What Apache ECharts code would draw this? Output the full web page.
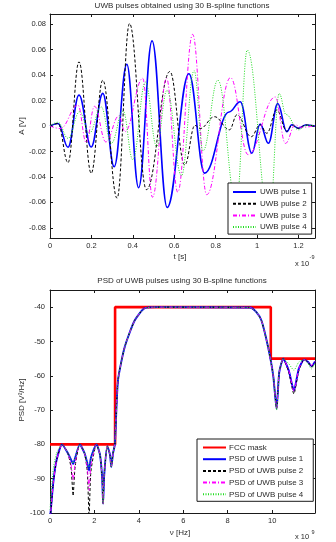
<!DOCTYPE html>
<html>
<head>
<meta charset="utf-8">
<script src="https://cdn.jsdelivr.net/npm/echarts@6/dist/echarts.min.js"></script>
<style>
  html, body { margin: 0; padding: 0; background: #fff; }
  #chart { width: 336px; height: 542px; }
</style>
</head>
<body>
<div id="chart"></div>
<script>
// top panel: t in units of 1e-9 s, amplitude in V (turning points)
const tTicks = [0, 0.2, 0.4, 0.6, 0.8, 1, 1.2]
const aTicks = [-0.08, -0.06, -0.04, -0.02, 0, 0.02, 0.04, 0.06, 0.08]

const pulse1T = [0, 0.039, 0.087, 0.14, 0.199, 0.255, 0.31, 0.371, 0.428, 0.493, 0.566, 0.671, 0.747, 0.865, 0.919, 0.975, 1.015, 1.055, 1.1, 1.144, 1.168, 1.2, 1.235, 1.28]
const pulse1A = [0, 0.002, -0.0167, 0.0243, -0.0165, 0.0256, -0.032, 0.0485, -0.0485, 0.0669, -0.064, 0.041, -0.037, 0.011, 0.019, -0.0214, 0.0015, -0.0136, 0.0176, -0.0045, 0.001, -0.0018, 0.0008, 0]

const pulse2T = [0, 0.039, 0.087, 0.14, 0.199, 0.255, 0.324, 0.384, 0.466, 0.579, 0.651, 0.7, 0.725, 0.795, 0.867, 0.903, 0.972, 1.015, 1.047, 1.095, 1.144, 1.17, 1.2, 1.235, 1.28]
const pulse2A = [0, 0.002, -0.0288, 0.0504, -0.0371, 0.036, -0.0567, 0.0805, -0.05, 0.0428, -0.0306, 0.0005, -0.002, 0.0073, -0.003, 0.0088, -0.0084, 0.001, -0.0057, 0.0125, -0.004, 0.0008, -0.0018, 0.0008, 0]

const pulse3T = [0, 0.05, 0.135, 0.175, 0.215, 0.27, 0.333, 0.362, 0.448, 0.495, 0.563, 0.617, 0.689, 0.757, 0.872, 0.957, 1.088, 1.137, 1.185, 1.21, 1.28]
const pulse3A = [0, -0.002, 0.0165, -0.013, 0.0155, -0.0125, 0.008, -0.0045, 0.0374, -0.056, 0.0375, -0.052, 0.072, -0.054, 0.038, -0.0225, 0.0228, -0.0137, 0.001, -0.001, 0]

const pulse4T = [0, 0.039, 0.087, 0.143, 0.19, 0.247, 0.296, 0.353, 0.4, 0.461, 0.515, 0.565, 0.635, 0.696, 0.739, 0.811, 0.9, 0.953, 1.06, 1.107, 1.14, 1.2, 1.24, 1.28]
const pulse4A = [0, 0.003, -0.0097, 0.0112, -0.0057, 0.0151, -0.0136, 0.0118, -0.0265, 0.0345, -0.016, 0.028, -0.039, 0.0435, -0.0195, 0.036, -0.062, 0.0596, -0.075, 0.0255, 0.009, -0.003, 0.0005, 0]

// bottom panel: frequency in units of 1e9 Hz, PSD in dB
const fTicks = [0, 2, 4, 6, 8, 10]
const psdTicks = [-100, -90, -80, -70, -60, -50, -40]

const maskF = [0, 2.93, 2.93, 9.94, 9.94, 11.93]
const maskP = [-80, -80, -40, -40, -55, -55]

const psdF = [0, 0.15, 0.3, 0.54, 0.8, 0.95, 1.04, 1.13, 1.34, 1.55, 1.68, 1.76, 1.84, 2.09, 2.25, 2.35, 2.39, 2.44, 2.58, 2.7, 2.76, 2.84, 2.92, 3.06, 3.36, 3.81, 4.26, 4.8, 9.0, 9.3, 9.52, 9.82, 10.05, 10.2, 10.32, 10.5, 10.75, 10.98, 11.2, 11.44, 11.62, 11.77, 11.93]
const psd1 = [-102, -91, -84.5, -80, -82.5, -84.5, -85.7, -84, -80, -82.5, -85.5, -87.6, -84, -80, -83, -90, -97.3, -89, -80.5, -83, -86.6, -82.5, -80, -61.4, -51.7, -43.9, -40.3, -40, -40.1, -41.5, -43.9, -51.7, -60, -69.6, -59, -55, -58.5, -64.3, -58, -55.3, -56, -57.2, -55.8]
const psd2 = [-103, -91, -84.5, -80, -82.5, -87, -95, -86.5, -80, -82.5, -88, -101, -88, -80, -83, -90, -97.3, -89, -80.5, -83, -86.6, -82.5, -80, -61.4, -51.7, -43.9, -40.3, -40, -40.1, -41.5, -43.9, -51.7, -60, -69.6, -59, -55, -59, -65.3, -58.5, -55.3, -56, -57.5, -56]
const psd3 = [-102, -91, -84.5, -80, -82.5, -86, -90.5, -85.5, -80, -82.5, -87, -93.4, -86, -80, -83, -90, -97.3, -89, -80.5, -83, -86.6, -82.5, -80, -61.4, -51.7, -43.9, -40.3, -40, -40.1, -41.5, -43.9, -51.7, -60, -69.6, -59, -55, -58.5, -64.5, -58, -55.3, -56, -57, -55.8]
const psd4 = [-99, -87, -82.5, -80, -82.5, -84.5, -85.5, -84, -80, -82.5, -85.5, -87, -84, -80, -83, -90, -97.3, -89, -80.5, -83, -86.6, -82.5, -80, -61.4, -51.7, -43.9, -40.3, -40, -40.1, -41.5, -43.9, -51.7, -60, -70, -59, -55, -56.5, -58.4, -56, -55.3, -56.5, -58, -56.5]

const font = 'Liberation Sans, Arial, sans-serif'
const frame = '#1a1a1a'
const textColor = '#2a2a2a'

function pairs(xs, ys) {
    return xs.map((x, i) => [x, ys[i]])
}

function makeX(gridIndex, position, max, ticks, showLabel) {
    return {
        type: 'value', gridIndex, position, min: 0, max,
        axisLine: { show: true, onZero: false, lineStyle: { color: frame, width: 1 } },
        axisTick: { show: true, inside: true, length: 3, customValues: ticks, lineStyle: { color: frame } },
        axisLabel: { show: showLabel, customValues: ticks, fontSize: 7.5, fontFamily: font, color: textColor, margin: 4 },
        splitLine: { show: false }
    }
}

function makeY(gridIndex, position, min, max, ticks, showLabel, margin) {
    return {
        type: 'value', gridIndex, position, min, max,
        axisLine: { show: true, onZero: false, lineStyle: { color: frame, width: 1 } },
        axisTick: { show: true, inside: true, length: 3, customValues: ticks, lineStyle: { color: frame } },
        axisLabel: { show: showLabel, customValues: ticks, fontSize: 7.5, fontFamily: font, color: textColor, margin },
        splitLine: { show: false }
    }
}

const styles = [
    { color: '#0000ff', width: 1.6, type: 'solid' },
    { color: '#000000', width: 1, type: [3, 2] },
    { color: '#ff00ff', width: 1, type: [4, 2, 1, 2] },
    { color: '#22dd22', width: 1, type: [1, 1.5] }
]

function lineSeries(name, data, st, xi, yi, smooth, mono, width) {
    return {
        name, type: 'line', data, xAxisIndex: xi, yAxisIndex: yi,
        showSymbol: false, symbol: 'none', smooth, smoothMonotone: mono,
        color: st.color,
        itemStyle: { opacity: 0 },
        lineStyle: { color: st.color, width: width || st.width, type: st.type },
        animation: false
    }
}

const pulses = [[pulse1T, pulse1A], [pulse2T, pulse2A], [pulse3T, pulse3A], [pulse4T, pulse4A]]
const psds = [psd1, psd2, psd3, psd4]

const series = []
pulses.forEach((p, i) => {
    series.push(lineSeries('UWB pulse ' + (i + 1), pairs(p[0], p[1]), styles[i], 0, 0, 0.4, 'x'))
})
series.push({
    name: 'FCC mask', type: 'line', data: pairs(maskF, maskP), xAxisIndex: 2, yAxisIndex: 2,
    showSymbol: false, symbol: 'none', color: '#ff0000',
    itemStyle: { opacity: 0 },
    lineStyle: { color: '#ff0000', width: 2.6 }, animation: false
})
psds.forEach((v, i) => {
    series.push(lineSeries('PSD of UWB pulse ' + (i + 1), pairs(psdF, v), styles[i], 2, 2, 0.2, null, i === 0 ? 1.9 : null))
})

function txt(text, x, y, size, opts) {
    return Object.assign({
        type: 'text', x, y, z: 100,
        style: { text, fontSize: size, fontFamily: font, fill: textColor, textAlign: 'center', textVerticalAlign: 'middle' }
    }, opts || {})
}

const legendBase = {
    orient: 'vertical', backgroundColor: '#fff', borderColor: frame, borderWidth: 1, borderRadius: 0,
    itemHeight: 9, itemWidth: 23, itemGap: 3.7,
    itemStyle: { opacity: 0 },
    textStyle: { fontSize: 8, fontFamily: font, color: textColor },
    selectedMode: false, z: 10
}

const chart = echarts.init(document.getElementById('chart'), null, { renderer: 'canvas' })
chart.setOption({
    animation: false,
    backgroundColor: '#fff',
    grid: [
        { left: 50, top: 14, width: 265, height: 224 },
        { left: 50, top: 290, width: 265, height: 223 }
    ],
    xAxis: [
        makeX(0, 'bottom', 1.28, tTicks, true),
        makeX(0, 'top', 1.28, tTicks, false),
        makeX(1, 'bottom', 11.93, fTicks, true),
        makeX(1, 'top', 11.93, fTicks, false)
    ],
    yAxis: [
        makeY(0, 'left', -0.088, 0.088, aTicks, true, 4),
        makeY(0, 'right', -0.088, 0.088, aTicks, false, 4),
        makeY(1, 'left', -100, -35, psdTicks, true, 5),
        makeY(1, 'right', -100, -35, psdTicks, false, 5)
    ],
    legend: [
        Object.assign({}, legendBase, {
            left: 228, top: 183, padding: [5, 5, 3, 4],
            textStyle: Object.assign({}, legendBase.textStyle, { padding: [0, 0, 0, -1] }),
            data: ['UWB pulse 1', 'UWB pulse 2', 'UWB pulse 3', 'UWB pulse 4']
        }),
        Object.assign({}, legendBase, {
            left: 197, top: 439, padding: [4.5, 10, 3, 5],
            textStyle: Object.assign({}, legendBase.textStyle, { padding: [0, 0, 0, -2] }),
            data: ['FCC mask', 'PSD of UWB pulse 1', 'PSD of UWB pulse 2', 'PSD of UWB pulse 3', 'PSD of UWB pulse 4']
        })
    ],
    graphic: [
        txt('UWB pulses obtained using 30 B-spline functions', 182, 5.5, 8),
        txt('PSD of UWB pulses using 30 B-spline functions', 182, 281, 8),
        txt('A [V]', 22, 126, 8, { rotation: Math.PI / 2 }),
        txt('t [s]', 180, 257, 8),
        txt('x 10', 302, 263.5, 7.5),
        txt('-9', 312, 257.5, 5.5),
        txt('PSD [V²/Hz]', 22, 400, 8, { rotation: Math.PI / 2 }),
        txt('ν [Hz]', 180, 532.5, 8),
        txt('x 10', 302, 537, 7.5),
        txt('9', 313, 532, 5.5)
    ],
    series
})
</script>
</body>
</html>
